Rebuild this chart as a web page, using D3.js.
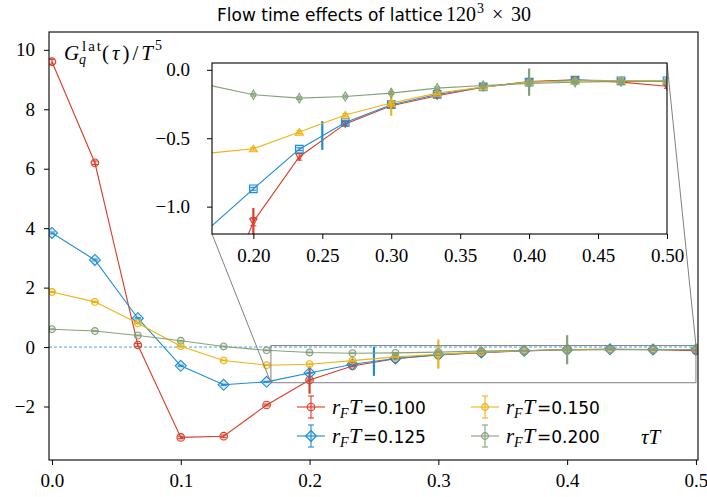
<!DOCTYPE html>
<html lang="en">
<head>
<meta charset="UTF-8">
<title>Flow time effects of lattice</title>
<script src="https://cdn.jsdelivr.net/npm/d3@7/dist/d3.min.js"></script>
<style>
  body, html { margin: 0; padding: 0; background: #fff; overflow: hidden; }
  svg { display: block; }
</style>
</head>
<body>
<svg id="mainsvg" width="707" height="497"></svg>
<script>
// tau*T = n / 30
const tauT = [0, 1/30, 2/30, 3/30, 4/30, 5/30, 6/30, 7/30, 8/30, 9/30, 10/30, 11/30, 12/30, 13/30, 14/30, 15/30];

const flowLabels = ["0.100", "0.125", "0.150", "0.200"];
const G100 = [9.6, 6.2, 0.07, -3.04, -3.0, -1.95, -1.11, -0.635, -0.395, -0.262, -0.19, -0.127, -0.085, -0.073, -0.09, -0.12];
const G125 = [3.84, 2.93, 0.97, -0.63, -1.27, -1.17, -0.87, -0.58, -0.385, -0.255, -0.18, -0.125, -0.09, -0.075, -0.08, -0.08];
const G150 = [1.85, 1.52, 0.8, 0.03, -0.45, -0.61, -0.577, -0.455, -0.33, -0.243, -0.17, -0.125, -0.09, -0.08, -0.08, -0.08];
const G200 = [0.6, 0.54, 0.39, 0.21, 0.02, -0.11, -0.182, -0.207, -0.195, -0.17, -0.134, -0.115, -0.1, -0.09, -0.085, -0.085];

const E100 = [0.08, 0.06, 0.05, 0.04, 0.04, 0.03, 0.03, 0.025, 0.015, 0.015, 0.01, 0.01, 0.01, 0.01, 0.015, 0.015];
const E125 = [0.03, 0.03, 0.02, 0.02, 0.02, 0.015, 0.01, 0.01, 0.01, 0.01, 0.01, 0.01, 0.01, 0.01, 0.01, 0.01];
const E150 = [0.02, 0.02, 0.015, 0.01, 0.01, 0.01, 0.01, 0.01, 0.01, 0.01, 0.01, 0.01, 0.01, 0.01, 0.01, 0.01];
const E200 = [0.01, 0.01, 0.01, 0.01, 0.01, 0.01, 0.01, 0.01, 0.01, 0.01, 0.01, 0.01, 0.01, 0.01, 0.01, 0.01];

// one wide error bar per flow time
const bandX = [0.2, 0.25, 0.3, 0.4];
const bandY = [-1.11, -0.48, -0.235, -0.09];
const bandErrMain = [0.46, 0.49, 0.49, 0.49];
const bandErrInset = [0.10, 0.105, 0.10, 0.10];

const mainXTicks = [0, 0.1, 0.2, 0.3, 0.4, 0.5];
const mainYTicks = [-2, 0, 2, 4, 6, 8, 10];
const insetXTicks = [0.2, 0.25, 0.3, 0.35, 0.4, 0.45, 0.5];
const insetYTicks = [0, -0.5, -1.0];

const colors = ["#dc3c28", "#1f8dd2", "#efb212", "#84a27a"];
const mainMarks = ["circle", "diamond", "smallcircle", "smallcircle"];
const insetMarks = ["tridown", "square", "triup", "thindiamond"];

const SERIF = '"Liberation Serif", "DejaVu Serif", serif';
const SANS = '"DejaVu Sans", sans-serif';

const series = [G100, G125, G150, G200].map((vals, i) => ({
  label: flowLabels[i], color: colors[i],
  pts: vals.map((v, j) => ({x: tauT[j], y: v, e: [E100, E125, E150, E200][i][j]})),
  band: {x: bandX[i], y: bandY[i], em: bandErrMain[i], ei: bandErrInset[i]},
  mm: mainMarks[i], im: insetMarks[i]
}));

function markerPath(t) {
  switch (t) {
    case "circle": return circ(3.8);
    case "smallcircle": return circ(3.4);
    case "diamond": return "M0,-5.5L5.5,0L0,5.5L-5.5,0Z";
    case "thindiamond": return "M0,-4.7L2.7,0L0,4.7L-2.7,0Z";
    case "square": return "M-3.8,-3.8H3.8V3.8H-3.8Z";
    case "triup": return "M0,-3.5L4,3L-4,3Z";
    case "tridown": return "M0,3.5L3.6,-3L-3.6,-3Z";
  }
}
function circ(r) { return `M${r},0A${r},${r},0,1,1,${-r},0A${r},${r},0,1,1,${r},0Z`; }

const svg = d3.select("#mainsvg");

// main axes
const x = d3.scaleLinear().domain([-0.0023, 0.5016]).range([49, 698]);
const y = d3.scaleLinear().domain([-3.8, 10.6]).range([460, 32]);
// inset axes
const xi = d3.scaleLinear().domain([0.17, 0.5]).range([212, 667]);
const yi = d3.scaleLinear().domain([-1.2, 0.05]).range([234, 63]);

const defs = svg.append("defs");
defs.append("clipPath").attr("id", "clipMain").append("rect")
  .attr("x", 49).attr("y", 32).attr("width", 649).attr("height", 428);
defs.append("clipPath").attr("id", "clipInset").append("rect")
  .attr("x", 212).attr("y", 63).attr("width", 455).attr("height", 171);

// title
svg.append("text").style("font-family", SANS).attr("x", 217).attr("y", 21)
  .attr("font-size", 17).attr("fill", "#000").text("Flow time effects of lattice");
const tm = svg.append("text").style("font-family", SERIF).attr("y", 21).attr("font-size", 20).attr("fill", "#000");
tm.append("tspan").attr("x", 446).text("120");
tm.append("tspan").attr("x", 477).attr("y", 13).attr("font-size", 14).text("3");
tm.append("tspan").attr("x", 492).attr("y", 21).text("×");
tm.append("tspan").attr("x", 511).text("30");

function drawPanel(g, sx, sy, markKey, bandKey, clip) {
  const body = g.append("g").attr("clip-path", `url(#${clip})`);
  const line = d3.line().x(d => sx(d.x)).y(d => sy(d.y));
  series.forEach(s => {
    const sg = body.append("g");
    sg.append("path").datum(s.pts).attr("d", line)
      .attr("fill", "none").attr("stroke", s.color).attr("stroke-width", 1.1);
    // small error bars with caps
    const eb = sg.selectAll(".eb").data(s.pts).join("g");
    eb.append("line").attr("x1", d => sx(d.x)).attr("x2", d => sx(d.x))
      .attr("y1", d => sy(d.y - d.e)).attr("y2", d => sy(d.y + d.e))
      .attr("stroke", s.color).attr("stroke-width", 1);
    [-1, 1].forEach(k => eb.append("line")
      .attr("x1", d => sx(d.x) - 3).attr("x2", d => sx(d.x) + 3)
      .attr("y1", d => sy(d.y + k * d.e)).attr("y2", d => sy(d.y + k * d.e))
      .attr("stroke", s.color).attr("stroke-width", 1));
    sg.selectAll(".mk").data(s.pts).join("path")
      .attr("transform", d => `translate(${sx(d.x)},${sy(d.y)})`)
      .attr("d", markerPath(s[markKey]))
      .attr("fill", s.color).attr("fill-opacity", 0.18)
      .attr("stroke", s.color).attr("stroke-width", 1.1);
    const b = s.band;
    sg.append("line").attr("x1", sx(b.x)).attr("x2", sx(b.x))
      .attr("y1", sy(b.y - b[bandKey])).attr("y2", sy(b.y + b[bandKey]))
      .attr("stroke", s.color).attr("stroke-width", 2.2);
  });
}

function styleAxis(a, size) {
  a.attr("font-family", null).attr("font-size", null);
  a.select(".domain").remove();
  a.selectAll(".tick line").attr("stroke", "#000").attr("stroke-width", 1);
  a.selectAll(".tick text").style("font-family", SERIF).attr("font-size", size).attr("fill", "#000");
}

// ---- main panel ----
const main = svg.append("g");
main.append("line").attr("x1", 49).attr("x2", 698).attr("y1", y(0)).attr("y2", y(0))
  .attr("stroke", "#4ea2dc").attr("stroke-width", 1).attr("stroke-dasharray", "3,2");
drawPanel(main, x, y, "mm", "em", "clipMain");

main.append("g").attr("transform", "translate(0,460)")
  .call(d3.axisBottom(x).tickValues(mainXTicks).tickFormat(d3.format(".1f")).tickSize(5).tickPadding(9))
  .call(a => styleAxis(a, 19));
main.append("g").attr("transform", "translate(49,0)")
  .call(d3.axisLeft(y).tickValues(mainYTicks).tickFormat(d3.format("d")).tickSize(5).tickPadding(9))
  .call(a => styleAxis(a, 19));
main.append("rect").attr("x", 49).attr("y", 32).attr("width", 649).attr("height", 428)
  .attr("fill", "none").attr("stroke", "#000").attr("stroke-width", 1.1);

// y label
const yl = main.append("g").style("font-family", SERIF).attr("fill", "#000");
yl.append("text").attr("x", 64).attr("y", 60).attr("font-size", 21).attr("font-style", "italic").text("G");
yl.append("text").attr("x", 82).attr("y", 51).attr("font-size", 15).attr("textLength", 19).text("lat");
yl.append("text").attr("x", 79).attr("y", 64).attr("font-size", 14).attr("font-style", "italic").text("q");
const yl2 = yl.append("text").attr("x", 102).attr("y", 60).attr("font-size", 21)
  .attr("textLength", 51);
yl2.append("tspan").text("(");
yl2.append("tspan").attr("font-style", "italic").text("τ");
yl2.append("tspan").text(")/");
yl2.append("tspan").attr("font-style", "italic").text("T");
yl.append("text").attr("x", 155).attr("y", 50).attr("font-size", 14).text("5");

// x label inside
main.append("text").style("font-family", SERIF).attr("x", 641).attr("y", 444)
  .attr("font-size", 21).attr("font-style", "italic").attr("fill", "#000").text("τT");

// zoom region and connectors
main.append("rect").attr("x", x(0.17)).attr("y", y(0.05))
  .attr("width", x(0.5) - x(0.17)).attr("height", y(-1.2) - y(0.05))
  .attr("fill", "none").attr("stroke", "#808080").attr("stroke-width", 1);
main.append("line").attr("x1", 212).attr("y1", 234).attr("x2", x(0.17)).attr("y2", y(-1.2))
  .attr("stroke", "#808080").attr("stroke-width", 1);
main.append("line").attr("x1", 667).attr("y1", 63).attr("x2", x(0.5)).attr("y2", y(0.05))
  .attr("stroke", "#808080").attr("stroke-width", 1);

// legend
const legX = [297, 471], legY = [407, 436];
series.forEach((s, i) => {
  const hx = legX[Math.floor(i / 2)], hy = legY[i % 2];
  const lg = main.append("g");
  lg.append("line").attr("x1", hx).attr("x2", hx + 28).attr("y1", hy).attr("y2", hy)
    .attr("stroke", s.color).attr("stroke-width", 1.1);
  lg.append("line").attr("x1", hx + 14).attr("x2", hx + 14).attr("y1", hy - 11).attr("y2", hy + 11)
    .attr("stroke", s.color).attr("stroke-width", 1.1);
  [-11, 11].forEach(k => lg.append("line").attr("x1", hx + 11).attr("x2", hx + 17)
    .attr("y1", hy + k).attr("y2", hy + k).attr("stroke", s.color).attr("stroke-width", 1.1));
  lg.append("path").attr("transform", `translate(${hx + 14},${hy})`).attr("d", markerPath(s.mm))
    .attr("fill", s.color).attr("fill-opacity", 0.18).attr("stroke", s.color).attr("stroke-width", 1.1);
  const t = lg.append("text").attr("y", hy + 7).attr("fill", "#000");
  t.append("tspan").style("font-family", SERIF).attr("x", hx + 35).attr("font-size", 21).attr("font-style", "italic").text("r");
  t.append("tspan").style("font-family", SERIF).attr("x", hx + 43).attr("dy", 4).attr("font-size", 14).attr("font-style", "italic").text("F");
  t.append("tspan").style("font-family", SERIF).attr("x", hx + 52).attr("dy", -4).attr("font-size", 22).attr("font-style", "italic").text("T");
  t.append("tspan").style("font-family", SANS).attr("x", hx + 66).attr("font-size", 17).text("=" + s.label);
});

// ---- inset ----
const inset = svg.append("g");
inset.append("rect").attr("x", 212).attr("y", 63).attr("width", 455).attr("height", 171).attr("fill", "#fff");
drawPanel(inset, xi, yi, "im", "ei", "clipInset");
inset.append("g").attr("transform", "translate(0,234)")
  .call(d3.axisBottom(xi).tickValues(insetXTicks).tickFormat(d3.format(".2f")).tickSize(5).tickPadding(10))
  .call(a => styleAxis(a, 19));
inset.append("g").attr("transform", "translate(212,0)")
  .call(d3.axisLeft(yi).tickValues(insetYTicks).tickFormat(d3.format(".1f")).tickSize(5).tickPadding(17))
  .call(a => styleAxis(a, 19));
inset.append("rect").attr("x", 212).attr("y", 63).attr("width", 455).attr("height", 171)
  .attr("fill", "none").attr("stroke", "#000").attr("stroke-width", 1.1);
</script>
</body>
</html>
